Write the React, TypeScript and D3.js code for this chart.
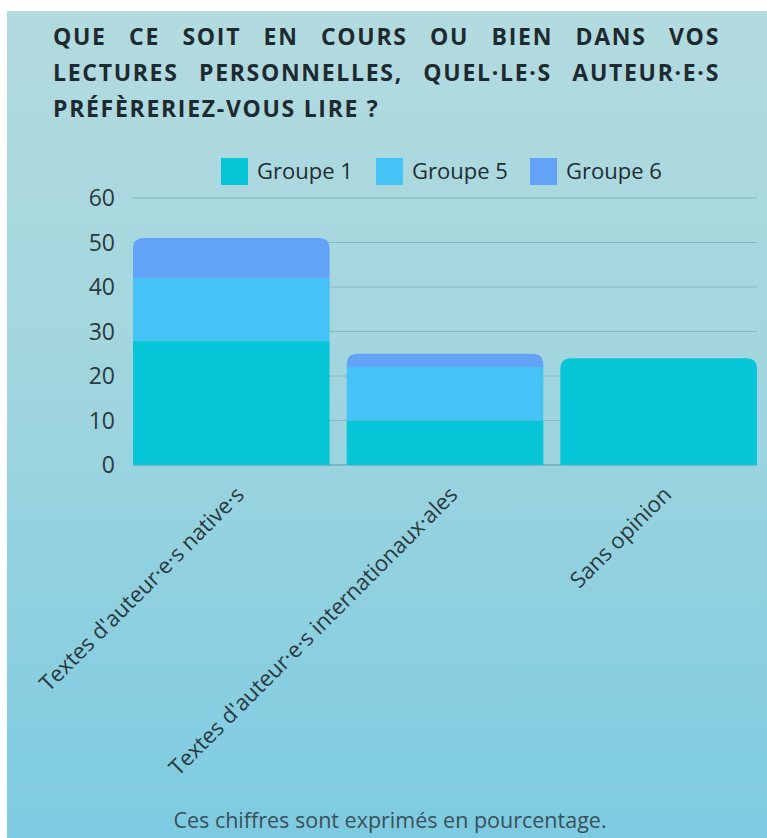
import React, { useEffect, useRef } from "react";
import * as d3 from "d3";

const titleLines = [
  "QUE CE SOIT EN COURS OU BIEN DANS VOS",
  "LECTURES PERSONNELLES, QUEL·LE·S AUTEUR·E·S",
  "PRÉFÈRERIEZ-VOUS LIRE ?",
];
const categories = [
  "Textes d'auteur·e·s native·s",
  "Textes d'auteur·e·s internationaux·ales",
  "Sans opinion",
];
const seriesNames = ["Groupe 1", "Groupe 5", "Groupe 6"];
const groupe1 = [28, 10, 24];
const groupe5 = [14, 12, 0];
const groupe6 = [9, 3, 0];
const yTicks = [0, 10, 20, 30, 40, 50, 60];
const colors = ["#07c6d7", "#45c2f6", "#63a3f5"];
const footer = "Ces chiffres sont exprimés en pourcentage.";

const W = 767;
const H = 838;

export default function App() {
  const ref = useRef<SVGSVGElement>(null);
  useEffect(() => {
    const svg = d3.select(ref.current);
    svg.selectAll("*").remove();

    const defs = svg.append("defs");
    const grad = defs
      .append("linearGradient")
      .attr("id", "bg")
      .attr("x1", 0)
      .attr("y1", 0)
      .attr("x2", 0)
      .attr("y2", 1);
    grad.append("stop").attr("offset", "0%").attr("stop-color", "#b3dbdf");
    grad.append("stop").attr("offset", "40%").attr("stop-color", "#a3d6de");
    grad.append("stop").attr("offset", "100%").attr("stop-color", "#7dcbe1");

    svg.append("rect").attr("width", W).attr("height", H).attr("fill", "#ffffff");
    svg
      .append("rect")
      .attr("x", 7)
      .attr("y", 11)
      .attr("width", W - 7)
      .attr("height", H - 11)
      .attr("fill", "url(#bg)");

    // Title, justified
    const tLeft = 53;
    const tRight = 720;
    titleLines.forEach((line, i) => {
      const t = svg
        .append("text")
        .attr("x", tLeft)
        .attr("y", 45 + i * 36)
        .attr("font-family", "'Open Sans', sans-serif")
        .attr("font-weight", 700)
        .attr("font-size", 23)
        .attr("letter-spacing", 1.7)
        .attr("fill", "#1d2a30")
        .text(line);
      if (i < titleLines.length - 1) {
        const node = t.node() as SVGTextElement;
        const w = node.getComputedTextLength();
        const gaps = line.split(" ").length - 1;
        const ws = (tRight - tLeft - w) / gaps;
        t.attr("word-spacing", ws);
      }
    });

    const x0 = 133;
    const x1 = 757;
    const x = d3
      .scaleBand<string>()
      .domain(categories)
      .range([x0, x1])
      .paddingInner(0.08)
      .paddingOuter(0);
    const y = d3.scaleLinear().domain([0, 60]).range([465, 198]);

    // gridlines
    const g = svg.append("g");
    yTicks.forEach((v) => {
      g.append("line")
        .attr("x1", x0)
        .attr("x2", x1)
        .attr("y1", y(v))
        .attr("y2", y(v))
        .attr("stroke", v === 0 ? "#5e9aa2" : "#86b8bd")
        .attr("stroke-width", 1);
      g.append("text")
        .attr("x", 115)
        .attr("y", y(v))
        .attr("dy", "0.35em")
        .attr("text-anchor", "end")
        .attr("font-family", "'Open Sans', sans-serif")
        .attr("font-size", 23)
        .attr("fill", "#2a3a40")
        .text(v);
    });

    // bars
    const series = [groupe1, groupe5, groupe6];
    const stackData = categories.map((c, i) => ({
      cat: c,
      "Groupe 1": groupe1[i],
      "Groupe 5": groupe5[i],
      "Groupe 6": groupe6[i],
    }));
    const stacked = d3.stack<any>().keys(seriesNames)(stackData);
    const r = 11;
    categories.forEach((c, ci) => {
      let topIdx = 0;
      series.forEach((s, si) => {
        if (s[ci] > 0) topIdx = si;
      });
      stacked.forEach((layer, si) => {
        const d = layer[ci];
        if (d[1] - d[0] <= 0) return;
        const bx = x(c)!;
        const bw = x.bandwidth();
        const yt = y(d[1]);
        const yb = y(d[0]);
        let path: string;
        if (si === topIdx) {
          const rr = Math.min(r, yb - yt);
          path = `M${bx},${yb}L${bx},${yt + rr}Q${bx},${yt} ${bx + rr},${yt}L${bx + bw - rr},${yt}Q${bx + bw},${yt} ${bx + bw},${yt + rr}L${bx + bw},${yb}Z`;
        } else {
          path = `M${bx},${yb}L${bx},${yt}L${bx + bw},${yt}L${bx + bw},${yb}Z`;
        }
        svg.append("path").attr("d", path).attr("fill", colors[si]);
      });
    });

    // x labels
    categories.forEach((c) => {
      const cx = x(c)! + x.bandwidth() / 2 + 14;
      svg
        .append("text")
        .attr("transform", `translate(${cx},${496}) rotate(-45)`)
        .attr("text-anchor", "end")
        .attr("font-family", "'Open Sans', sans-serif")
        .attr("font-size", 22)
        .attr("fill", "#2a3a40")
        .text(c);
    });

    // legend
    const legX = [221, 376, 530];
    seriesNames.forEach((n, i) => {
      svg
        .append("rect")
        .attr("x", legX[i])
        .attr("y", 158)
        .attr("width", 27)
        .attr("height", 27)
        .attr("fill", colors[i]);
      svg
        .append("text")
        .attr("x", legX[i] + 36)
        .attr("y", 171)
        .attr("dy", "0.35em")
        .attr("font-family", "'Open Sans', sans-serif")
        .attr("font-size", 22)
        .attr("fill", "#1f2d33")
        .text(n);
    });

    // footer
    svg
      .append("text")
      .attr("x", 390)
      .attr("y", 828)
      .attr("text-anchor", "middle")
      .attr("font-family", "'Open Sans', sans-serif")
      .attr("font-size", 21.5)
      .attr("fill", "#3a5058")
      .text(footer);
  }, []);
  return (
    <svg
      ref={ref}
      width={W}
      height={H}
      style={{ position: "absolute", left: 0, top: 0, display: "block" }}
    />
  );
}
